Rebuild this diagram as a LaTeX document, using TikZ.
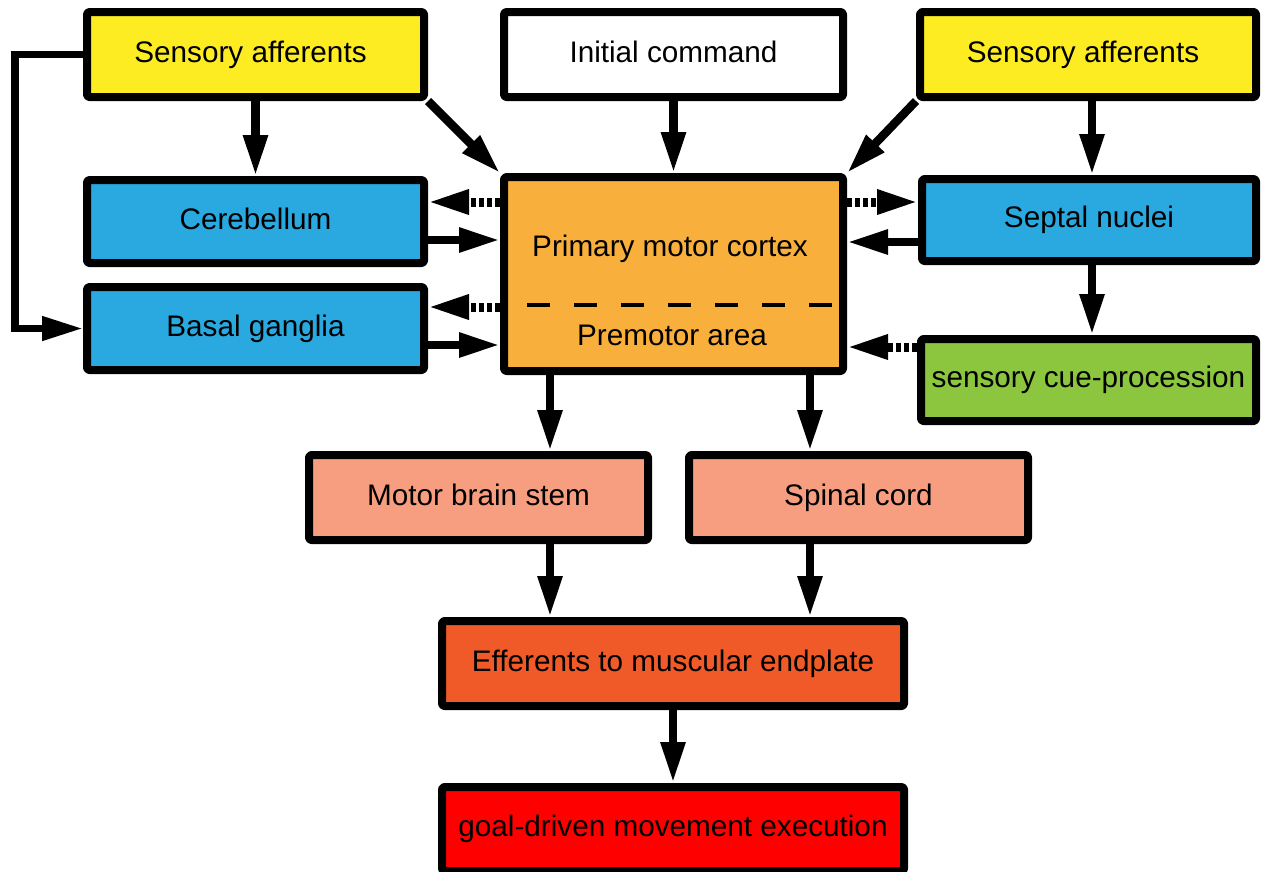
\documentclass[tikz,border=0pt]{standalone}
\usepackage{fontspec}
\setmainfont{Liberation Sans}
\usetikzlibrary{arrows.meta}
\definecolor{cyel}{HTML}{FCEC21}
\definecolor{cblue}{HTML}{29A9E0}
\definecolor{corange}{HTML}{F9AF3B}
\definecolor{cgreen}{HTML}{8CC63F}
\definecolor{csalmon}{HTML}{F69E7F}
\definecolor{ceff}{HTML}{F05A28}
\definecolor{cred}{HTML}{FF0000}
\begin{document}
\begin{tikzpicture}[x=1pt,y=-1pt,
  font=\fontsize{29.7}{34}\selectfont,
  >={Triangle[length=41pt,width=23pt]},
  box/.style={draw=black, line width=8pt, rounded corners=2.5pt, line join=round, inner sep=0pt,
    minimum width=337pt, minimum height=85pt, text height=21.4pt, text depth=6.2pt},
  lbl/.style={inner sep=0pt, anchor=base},
  arr/.style={line width=8.5pt, ->},
  looparr/.style={line width=7.5pt, ->},
  dotarr/.style={line width=9pt, dash pattern=on 5pt off 3pt, ->},
  divider/.style={line width=4.5pt, dash pattern=on 23pt off 24pt}
]
\path[use as bounding box] (0,0) rectangle (1261,871);

% nodes
\node[box, fill=cyel] (saL) at (255.5,54.5) {\hspace*{-10pt}Sensory afferents};
\node[box, fill=white, minimum width=339pt] (ic) at (673.5,54.5) {Initial command};
\node[box, fill=cyel, minimum width=336pt] (saR) at (1088,54.5) {\hspace*{-10pt}Sensory afferents};
\node[box, fill=cblue, minimum height=83pt] (cb) at (255.5,221.5) {Cerebellum};
\node[box, fill=cblue, minimum height=83pt] (bg) at (255.5,328.5) {Basal ganglia};
\node[box, fill=corange, minimum width=339pt, minimum height=194pt] (pmc) at (673.5,274) {};
\node[box, fill=cblue, minimum width=334pt, minimum height=82pt] (sn) at (1089,220) {Septal nuclei};
\node[box, fill=cgreen, minimum width=335pt, minimum height=82pt] (cue) at (1088.5,380) {sensory cue-procession};
\node[box, fill=csalmon, minimum width=339pt] (mbs) at (478.5,497.5) {Motor brain stem};
\node[box, fill=csalmon, minimum width=339pt] (sc) at (858.5,497.5) {Spinal cord};
\node[box, fill=ceff, minimum width=462pt, minimum height=85pt] (eff) at (673,663.5) {Efferents to muscular endplate};
\node[box, fill=cred, minimum width=462pt, minimum height=84pt] (goal) at (673,829) {goal-driven movement execution};

\node[lbl] (pmcT) at (670,256.5) {Primary motor cortex};
\node[lbl] (pmaT) at (672,345) {Premotor area};
\draw[divider] (527,305) -- (834,305);
\draw[line width=3pt, dash pattern=on 23pt off 24pt] (527,368) -- (834,368);

% helper coordinates
\coordinate (lp) at (15,0);
\coordinate (xl) at (550,0);
\coordinate (xr) at (810,0);
\coordinate (xs) at (1092,0);
\coordinate (y1) at (0,202);
\coordinate (y2) at (0,240);
\coordinate (y3) at (0,307);
\coordinate (y4) at (0,345);
\coordinate (y5) at (0,242);
\coordinate (y6) at (0,347);

% connectors
\draw[looparr] (saL.west) -| (lp |- bg.west) -- (bg.west);
\draw[arr] (saL.south) -- (cb.north);
\draw[arr] (saL.south east) -- (pmc.north west);
\draw[arr] (ic.south) -- (pmc.north);
\draw[arr] (saR.south west) -- (pmc.north east);
\draw[arr] (saR.south -| xs) -- (sn.north -| xs);
\draw[arr] (sn.south -| xs) -- (cue.north -| xs);

\draw[dotarr] (pmc.west |- y1) -- (cb.east |- y1);
\draw[arr] (cb.east |- y2) -- (pmc.west |- y2);
\draw[dotarr] (pmc.west |- y3) -- (bg.east |- y3);
\draw[arr] (bg.east |- y4) -- (pmc.west |- y4);
\draw[dotarr] (pmc.east |- y1) -- (sn.west |- y1);
\draw[arr] (sn.west |- y5) -- (pmc.east |- y5);
\draw[dotarr] (cue.west |- y6) -- (pmc.east |- y6);

\draw[arr] (pmc.south -| xl) -- (mbs.north -| xl);
\draw[arr] (pmc.south -| xr) -- (sc.north -| xr);
\draw[arr] (mbs.south -| xl) -- (eff.north -| xl);
\draw[arr] (sc.south -| xr) -- (eff.north -| xr);
\draw[arr] (eff.south) -- (goal.north);
\end{tikzpicture}
\end{document}
